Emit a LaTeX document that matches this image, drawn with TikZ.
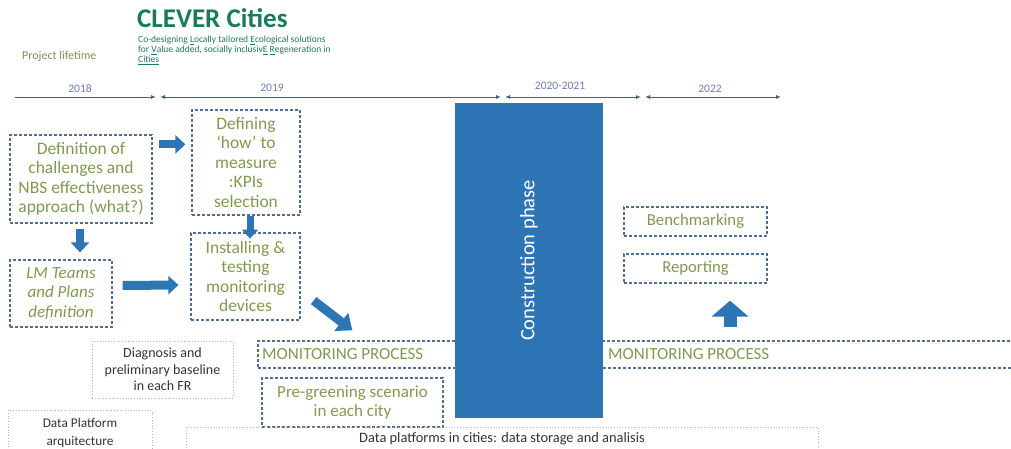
\documentclass[tikz,border=0pt]{standalone}
\usepackage{fontspec}
\setmainfont{Carlito}
\usetikzlibrary{arrows.meta,calc}
\definecolor{boxblue}{HTML}{4F6E96}
\definecolor{txtgreen}{HTML}{7F9A50}
\definecolor{arrblue}{HTML}{2E75B6}
\definecolor{teal}{HTML}{1A7A5C}
\definecolor{tline}{HTML}{4A5A9A}
\definecolor{olive}{HTML}{8A8A5A}
\definecolor{dgray}{HTML}{333333}
\tikzset{
  dbox/.style={draw=boxblue, line width=1.2pt, dash pattern=on 3pt off 2pt, text=txtgreen, align=center, inner sep=1pt, font=\fontsize{17.5}{19.5}\selectfont},
  gbox/.style={draw=gray!60, line width=0.8pt, dotted, text=dgray, align=center, inner sep=2pt, font=\fontsize{14}{16.5}\selectfont},
  barrow/.style={draw=arrblue, line width=8pt, -{Triangle[width=18pt,length=10pt]}},
  tl/.style={draw=tline, line width=0.9pt},
  yr/.style={text=tline!80, font=\fontsize{11.5}{13}\selectfont},
}
\begin{document}
\begin{tikzpicture}[x=1pt,y=-1pt]
\useasboundingbox (0,0) rectangle (1011,449);
% title
\node[anchor=base west, inner sep=0, text=teal, font=\fontsize{27}{30}\selectfont\bfseries] (title) at (137,28) {CLEVER Cities};
\node[anchor=north west, inner sep=0, text=teal, align=left, font=\fontsize{9.5}{10}\selectfont] (sub) at (138,36)
 {Co-designing \underline{L}ocally tailored \underline{E}cological solutions\\
  for \underline{V}alue added, socially inclusiv\underline{E} \underline{R}egeneration in\\
  \underline{Cities}};
\node[anchor=base west, inner sep=0, text=olive, font=\fontsize{12}{14}\selectfont] (pl) at (22,60) {Project lifetime};
% timeline
\coordinate (t0) at (15,97);
\coordinate (t1) at (156,97);
\coordinate (t2) at (160,97);
\coordinate (t3) at (501,97);
\coordinate (t4) at (505,97);
\coordinate (t5) at (641,97);
\coordinate (t6) at (645,97);
\coordinate (t7) at (781,97);
\draw[tl,-{Latex[length=5pt,width=4pt]}] (t0) -- (t1);
\draw[tl,{Latex[length=5pt,width=4pt]}-{Latex[length=5pt,width=4pt]}] (t2) -- (t3);
\draw[tl,{Latex[length=5pt,width=4pt]}-{Latex[length=5pt,width=4pt]}] (t4) -- (t5);
\draw[tl,{Latex[length=5pt,width=4pt]}-{Latex[length=5pt,width=4pt]}] (t6) -- (t7);
\node[yr] (y1) at (80,89) {2018};
\node[yr] (y2) at (272,88) {2019};
\node[yr] (y3) at (560,86) {2020-2021};
\node[yr] (y4) at (710,89) {2022};
% boxes
\node[dbox, minimum width=142pt, minimum height=88pt] (def) at (81,179) {Definition of\\challenges and\\NBS effectiveness\\approach (what?)};
\node[dbox, minimum width=108pt, minimum height=105pt] (kpi) at (246,162.5) {Defining\\‘how’ to\\measure\\:KPIs\\selection};
\node[dbox, minimum width=109pt, minimum height=87pt] (inst) at (245.5,276.5) {Installing \&\\testing\\monitoring\\devices};
\node[dbox, minimum width=102pt, minimum height=67pt, font=\fontsize{17}{19.5}\selectfont\itshape] (lm) at (61,293.5) {LM Teams\\and Plans\\definition};
\node[gbox, minimum width=141pt, minimum height=57pt] (diag) at (162.5,369.5) {Diagnosis and\\preliminary baseline\\in each FR};
\node[dbox, minimum width=760pt, minimum height=27pt] (mon) at (638,354.5) {};
\node[anchor=west, text=txtgreen, font=\fontsize{17}{19.5}\selectfont, inner sep=0] (mon1) at (262,354.5) {MONITORING PROCESS};
\node[dbox, minimum width=181pt, minimum height=49pt, font=\fontsize{17}{19.5}\selectfont] (pre) at (352.5,402.5) {Pre-greening scenario\\in each city};
\node[gbox, minimum width=144pt, minimum height=50pt, anchor=north, text depth=22pt, font=\fontsize{13.3}{18}\selectfont, inner ysep=8pt] (dpa) at (80,410) {Data Platform\\arquitecture};
\node[gbox, minimum width=632pt, minimum height=40pt, anchor=north, font=\fontsize{14.4}{16}\selectfont, text depth=24pt, inner ysep=5pt] (dpc) at (502,427) {Data platforms in cities: data storage and analisis};
\node[dbox, minimum width=143pt, minimum height=29pt, font=\fontsize{16.7}{19.5}\selectfont] (bench) at (695.5,221.5) {Benchmarking};
\node[dbox, minimum width=143pt, minimum height=29pt, font=\fontsize{16.7}{19.5}\selectfont] (rep) at (695.5,268.5) {Reporting};
% construction
\node[fill=arrblue, minimum width=148pt, minimum height=315pt, inner sep=0] (cons) at (529,260.5) {};
\node[rotate=90, text=white, font=\fontsize{20.5}{22}\selectfont] (consT) at (cons.center) {Construction phase};
\node[anchor=west, text=txtgreen, font=\fontsize{17}{19.5}\selectfont, inner sep=0] (mon2) at (608,354.5) {MONITORING PROCESS};
% block arrows
\draw[barrow] ($(def.north east)+(6,10)$) -- ($(kpi.north west)+(-6,35)$);
\draw[barrow, line width=7pt, -{Triangle[width=16pt,length=9pt]}] (kpi.south) ++(4,0) -- ++(0,23);
\draw[barrow] ($(def.south)+(-1,5)$) -- ($(lm.north)+(19,-7)$);
\draw[barrow, line width=9pt] ($(lm.east)+(10,-8)$) -- ($(inst.west)+(-12,8.5)$);
\draw[barrow, line width=9pt, -{Triangle[width=22pt,length=14pt]}] ($(inst.south east)+(13,-20)$) -- ($(mon.north west)+(95,-10)$);
\draw[barrow, line width=13pt, -{Triangle[width=36pt,length=16pt]}] ($(mon.north)+(92,-13)$) -- ($(rep.south)+(34.5,17)$);
\end{tikzpicture}
\end{document}
